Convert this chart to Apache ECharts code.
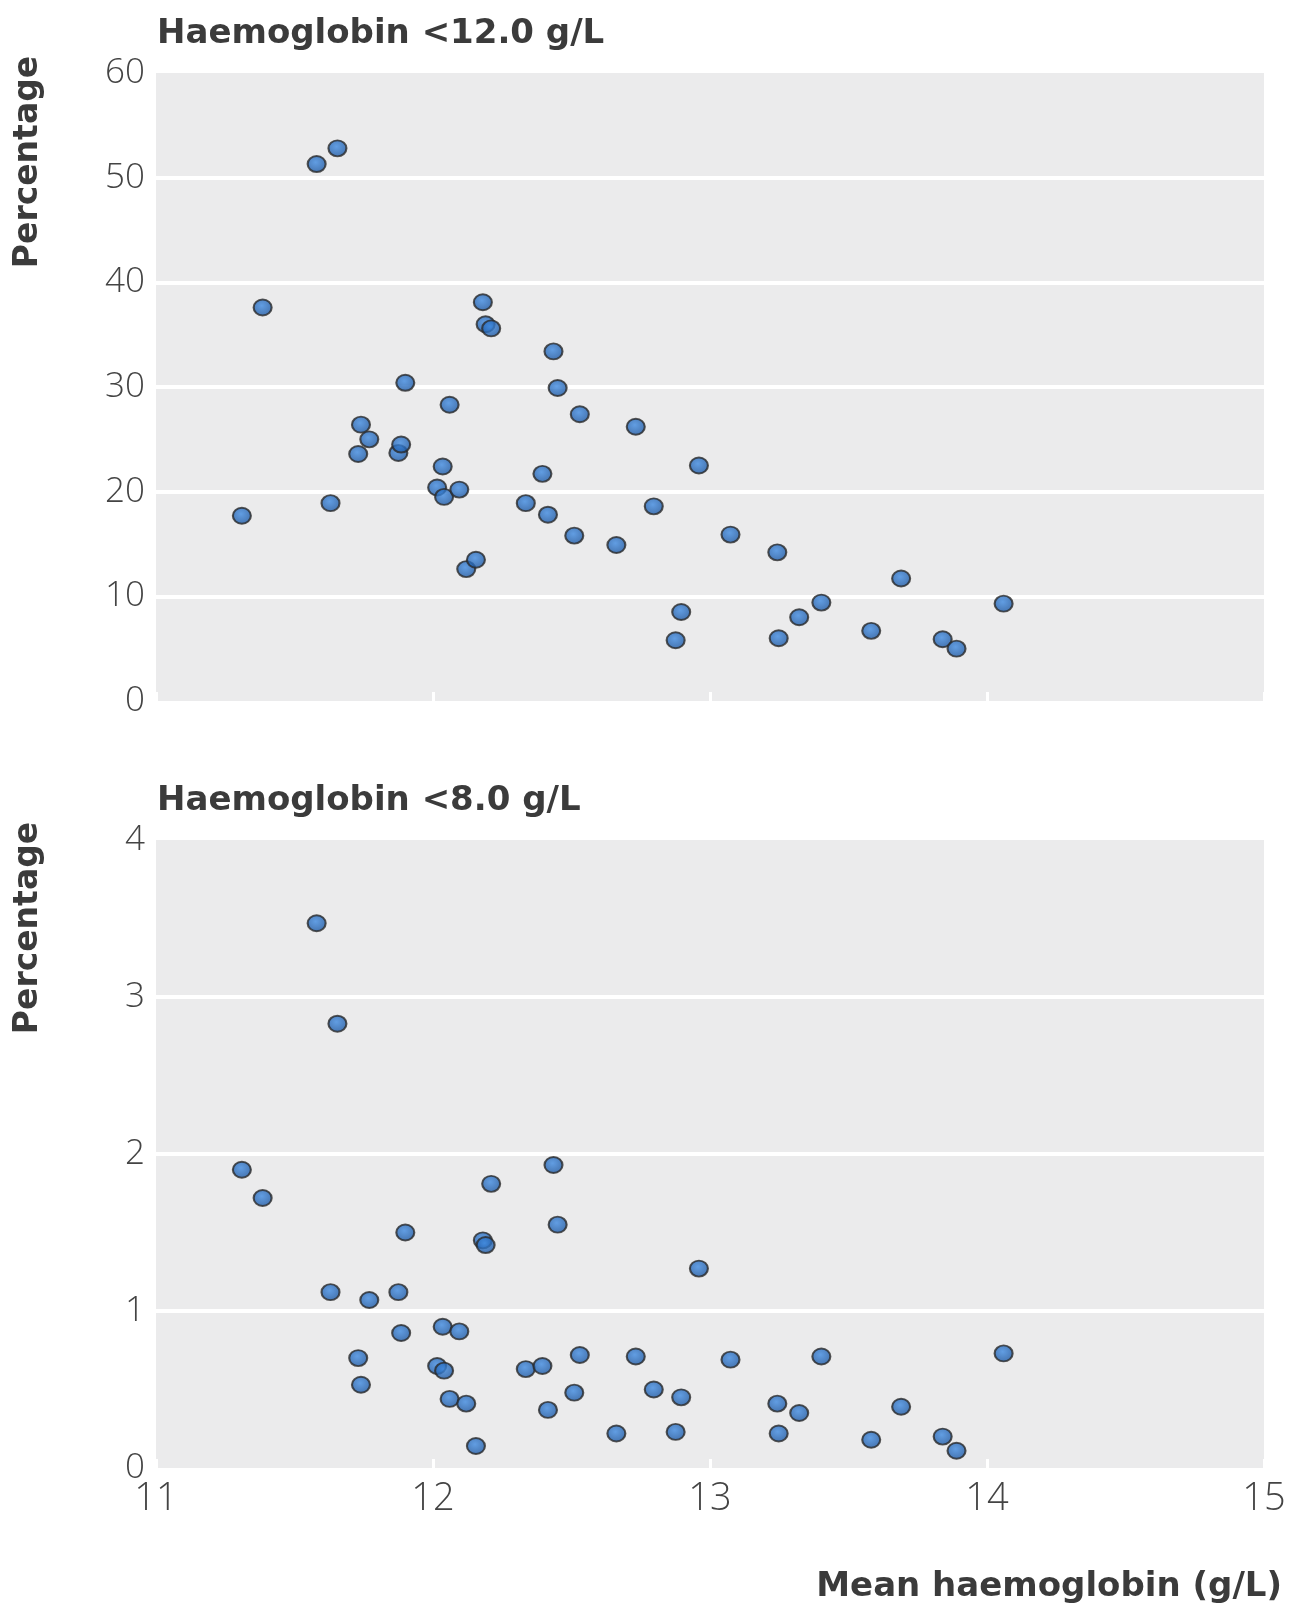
<!DOCTYPE html>
<html>
<head>
<meta charset="utf-8">
<script src="https://cdn.jsdelivr.net/npm/echarts@6/dist/echarts.min.js"></script>
<style>
html,body{margin:0;padding:0;background:#fff;}
#chart{width:1300px;height:1607px;}
</style>
</head>
<body>
<div id="chart"></div>
<script>
// Mean haemoglobin (g/L) per study/country
const meanHb = [11.31, 11.385, 11.58, 11.655, 11.63, 11.73, 11.74, 11.77, 11.875, 11.885, 11.90,
  12.015, 12.035, 12.04, 12.06, 12.095, 12.12, 12.155, 12.18, 12.19, 12.21, 12.335, 12.395,
  12.415, 12.435, 12.45, 12.51, 12.53, 12.662, 12.732, 12.797, 12.876, 12.896, 12.96, 13.074,
  13.243, 13.248, 13.322, 13.402, 13.582, 13.69, 13.84, 13.89, 14.06];
// Percentage with haemoglobin <12.0 g/L
const pctBelow12 = [17.7, 37.6, 51.3, 52.8, 18.9, 23.6, 26.4, 25.0, 23.7, 24.5, 30.4,
  20.4, 22.4, 19.5, 28.3, 20.2, 12.6, 13.5, 38.1, 36.0, 35.6, 18.9, 21.7,
  17.8, 33.4, 29.9, 15.8, 27.4, 14.9, 26.2, 18.6, 5.8, 8.5, 22.5, 15.9,
  14.2, 6.0, 8.0, 9.4, 6.7, 11.7, 5.9, 5.0, 9.3];
// Percentage with haemoglobin <8.0 g/L
const pctBelow8 = [1.90, 1.72, 3.47, 2.83, 1.12, 0.70, 0.53, 1.07, 1.12, 0.86, 1.50,
  0.65, 0.90, 0.62, 0.44, 0.87, 0.41, 0.14, 1.45, 1.42, 1.81, 0.63, 0.65,
  0.37, 1.93, 1.55, 0.48, 0.72, 0.22, 0.71, 0.50, 0.23, 0.45, 1.27, 0.69,
  0.41, 0.22, 0.35, 0.71, 0.18, 0.39, 0.20, 0.11, 0.73];
const titles = ['Haemoglobin <12.0 g/L', 'Haemoglobin <8.0 g/L'];
const yLabel = 'Percentage';
const xLabel = 'Mean haemoglobin (g/L)';

const FONT = "'Open Sans', 'Noto Sans', sans-serif";
const BOLD = "'DejaVu Sans', 'Noto Sans', sans-serif";
const TXT = '#3b3b3b';

const chart = echarts.init(document.getElementById('chart'), null, {renderer: 'canvas'});

const markerStyle = {
  color: {type: 'radial', x: 0.45, y: 0.4, r: 0.6,
    colorStops: [{offset: 0, color: '#3f8ae0'}, {offset: 1, color: '#1a55a0'}]},
  borderColor: '#2b2b2b', borderWidth: 2
};

function xAxisCfg(gridIndex, showLabels) {
  return {
    type: 'value', gridIndex, min: 11, max: 15, interval: 1,
    axisLine: {show: false},
    axisTick: {show: true, inside: true, length: 9, lineStyle: {color: '#ffffff', width: 3}},
    splitLine: {show: false},
    axisLabel: {show: showLabels, fontSize: 38, color: '#444', fontFamily: FONT, fontWeight: 300, margin: 12}
  };
}
function yAxisCfg(gridIndex, max, interval) {
  return {
    type: 'value', gridIndex, min: 0, max, interval,
    axisLine: {show: false}, axisTick: {show: false},
    splitLine: {show: true, showMinLine: false, showMaxLine: false, lineStyle: {color: '#ffffff', width: 4}},
    axisLabel: {fontSize: 35, color: '#444', fontFamily: FONT, fontWeight: 300, margin: 11}
  };
}

chart.setOption({
  animation: false,
  backgroundColor: '#ffffff',
  title: [
    {text: titles[0], left: 152, top: 12, textStyle: {fontSize: 34, fontWeight: 'bold', color: TXT, fontFamily: BOLD}},
    {text: titles[1], left: 152, top: 779, textStyle: {fontSize: 34, fontWeight: 'bold', color: TXT, fontFamily: BOLD}}
  ],
  grid: [
    {left: 156, right: 36, top: 73, height: 628, show: true, backgroundColor: '#ebebec', borderWidth: 0},
    {left: 156, right: 36, top: 840, height: 628, show: true, backgroundColor: '#ebebec', borderWidth: 0}
  ],
  xAxis: [xAxisCfg(0, false), xAxisCfg(1, true)],
  yAxis: [yAxisCfg(0, 60, 10), yAxisCfg(1, 4, 1)],
  graphic: [
    {type: 'text', x: 28, y: 162, rotation: Math.PI / 2,
      style: {text: yLabel, fontSize: 33, fontWeight: 'bold', fill: TXT, fontFamily: BOLD, align: 'center', verticalAlign: 'middle'}},
    {type: 'text', x: 28, y: 928, rotation: Math.PI / 2,
      style: {text: yLabel, fontSize: 33, fontWeight: 'bold', fill: TXT, fontFamily: BOLD, align: 'center', verticalAlign: 'middle'}},
    {type: 'text', x: 1282, y: 1587,
      style: {text: xLabel, fontSize: 34, fontWeight: 'bold', fill: TXT, fontFamily: BOLD, align: 'right', verticalAlign: 'middle'}}
  ],
  series: [
    {type: 'scatter', xAxisIndex: 0, yAxisIndex: 0, symbol: 'circle', symbolSize: [18, 16],
      itemStyle: markerStyle, data: meanHb.map((x, i) => [x, pctBelow12[i]])},
    {type: 'scatter', xAxisIndex: 1, yAxisIndex: 1, symbol: 'circle', symbolSize: [18, 16],
      itemStyle: markerStyle, data: meanHb.map((x, i) => [x, pctBelow8[i]])}
  ]
});
</script>
</body>
</html>
